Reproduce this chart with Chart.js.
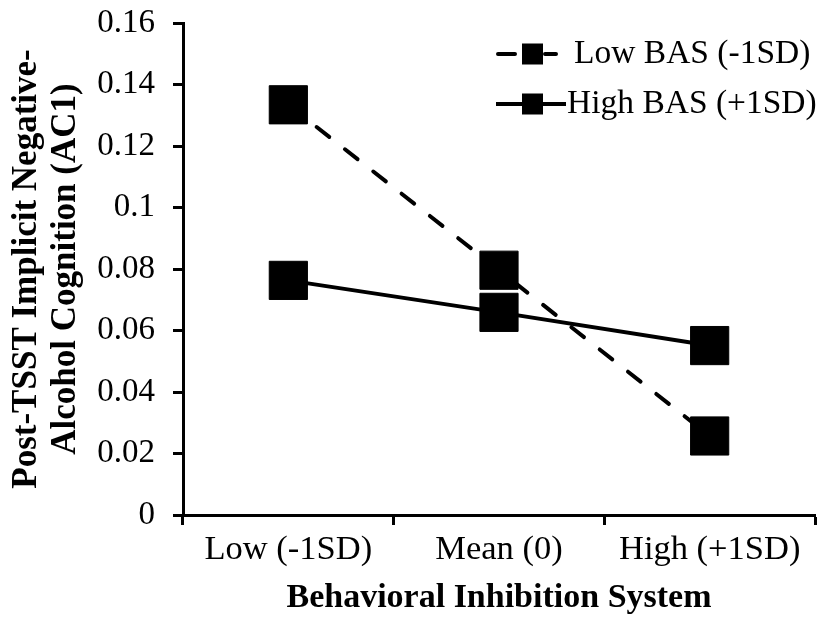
<!DOCTYPE html>
<html>
<head>
<meta charset="utf-8">
<title>BIS x BAS</title>
<script src="https://cdn.jsdelivr.net/npm/chart.js@4/dist/chart.umd.min.js"></script>
<style>
  html, body { margin: 0; padding: 0; background: #ffffff; }
  #chart { display: block; }
</style>
</head>
<body>
<canvas id="chart" width="836" height="619"></canvas>
<script>
// interaction plot: BIS (x) by BAS (lines)

const categories = ["Low (-1SD)", "Mean (0)", "High (+1SD)"];
const seriesNames = ["Low BAS (-1SD)", "High BAS (+1SD)"];
const lowBAS = [0.1334, 0.0796, 0.0257];
const highBAS = [0.0763, 0.0659, 0.0551];
const yTicks = { min: 0, max: 0.16, step: 0.02 };

const SERIF = '"Liberation Serif", "Times New Roman", serif';

// legend drawn by hand: line key with square marker, like the Excel original
const boxLegend = {
  id: "boxLegend",
  afterDraw(chart) {
    const ctx = chart.ctx;
    const rows = [54, 104];
    chart.data.datasets.forEach((ds, i) => {
      const y = rows[i];
      const dashed = !!ds.borderDash;
      ctx.save();
      ctx.strokeStyle = "#000";
      ctx.lineWidth = ds.borderWidth;
      ctx.lineCap = dashed ? "round" : "butt";
      ctx.beginPath();
      if (dashed) {
        ctx.moveTo(498, y); ctx.lineTo(515, y);
        ctx.moveTo(545, y); ctx.lineTo(556, y);
      } else {
        ctx.moveTo(496, y); ctx.lineTo(566, y);
      }
      ctx.stroke();
      ctx.fillStyle = "#000";
      ctx.fillRect(522, y - 10.5, 21, 21);
      ctx.font = "33.5px " + SERIF;
      ctx.textBaseline = "middle";
      ctx.fillText(ds.label, dashed ? 574 : 567, y);
      ctx.restore();
    });
  }
};

const ctx = document.getElementById("chart").getContext("2d");

new Chart(ctx, {
  type: "line",
  data: {
    labels: categories,
    datasets: [
      {
        label: seriesNames[0],
        data: lowBAS,
        borderColor: "#000",
        backgroundColor: "#000",
        borderWidth: 4,
        borderDash: [16, 20],
        borderCapStyle: "round",
        pointStyle: "rect",
        pointRadius: 27,
        pointBorderWidth: 1,
        pointBackgroundColor: "#000",
        pointBorderColor: "#000",
        tension: 0
      },
      {
        label: seriesNames[1],
        data: highBAS,
        borderColor: "#000",
        backgroundColor: "#000",
        borderWidth: 4,
        pointStyle: "rect",
        pointRadius: 27,
        pointBorderWidth: 1,
        pointBackgroundColor: "#000",
        pointBorderColor: "#000",
        tension: 0
      }
    ]
  },
  options: {
    responsive: false,
    animation: false,
    devicePixelRatio: 1,
    layout: {
      autoPadding: false, // big markers would otherwise push the plot inwards
      padding: { top: 23, right: 21, left: 0, bottom: 0 }
    },
    plugins: {
      legend: { display: false },
      tooltip: { enabled: false }
    },
    scales: {
      x: {
        offset: true,
        grid: {
          offset: true,
          drawOnChartArea: false,
          drawTicks: true,
          tickLength: 10,
          tickWidth: 3,
          tickColor: "#000"
        },
        border: { color: "#000", width: 3 },
        ticks: {
          color: "#000",
          padding: 4,
          maxRotation: 0,
          font: { family: SERIF, size: 34.5 }
        },
        title: {
          display: true,
          text: "Behavioral Inhibition System",
          color: "#000",
          padding: { top: 0, bottom: 1 },
          font: { family: SERIF, size: 34, weight: "bold", lineHeight: 1.15 }
        },
        afterFit: (scale) => {
          scale.height = 104;
          scale.paddingLeft = 0;
          scale.paddingRight = 0;
        }
      },
      y: {
        min: yTicks.min,
        max: yTicks.max,
        grid: {
          drawOnChartArea: false,
          drawTicks: true,
          tickLength: 10,
          tickWidth: 3,
          tickColor: "#000"
        },
        border: { color: "#000", width: 3 },
        ticks: {
          stepSize: yTicks.step,
          color: "#000",
          padding: 18,
          font: { family: SERIF, size: 33 },
          callback: (v) => String(Number(v.toFixed(2)))
        },
        title: {
          display: true,
          text: ["Post-TSST Implicit Negative-", "Alcohol Cognition (AC1)"],
          color: "#000",
          padding: { top: 7, bottom: 0 },
          font: { family: SERIF, size: 35, weight: "bold", lineHeight: 1.12 }
        },
        afterFit: (scale) => {
          scale.width = 183;
          scale.paddingTop = 0;
          scale.paddingBottom = 0;
        }
      }
    }
  },
  plugins: [boxLegend]
});
</script>
</body>
</html>
